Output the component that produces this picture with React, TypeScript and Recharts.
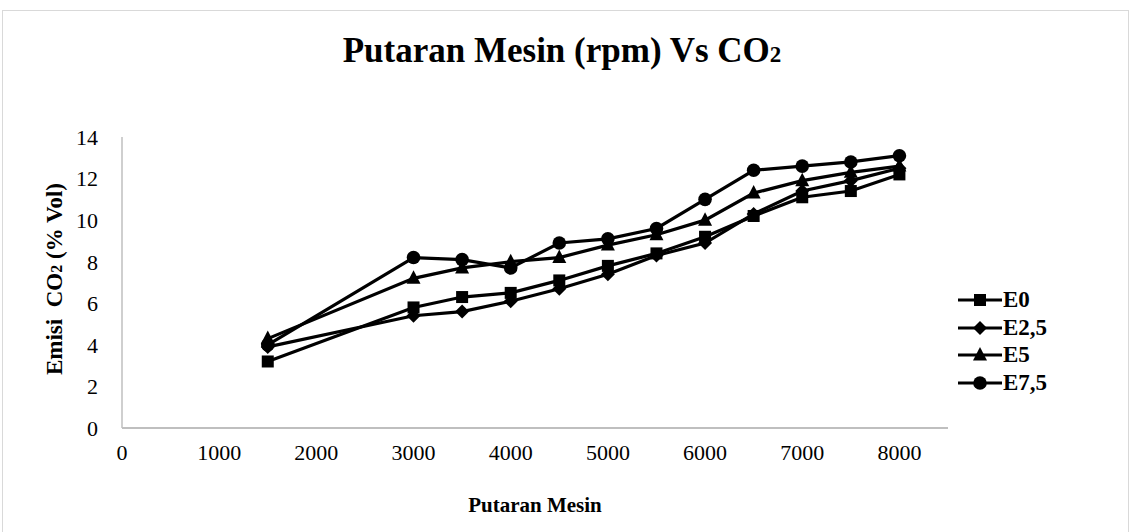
import React from "react";
import { LineChart, Line, XAxis, YAxis } from "recharts";

const rpm = [1500, 3000, 3500, 4000, 4500, 5000, 5500, 6000, 6500, 7000, 7500, 8000];
const e0 = [3.2, 5.8, 6.3, 6.5, 7.1, 7.8, 8.4, 9.2, 10.2, 11.1, 11.4, 12.2];
const e25 = [3.9, 5.4, 5.6, 6.1, 6.7, 7.4, 8.3, 8.9, 10.3, 11.4, 11.9, 12.5];
const e5 = [4.3, 7.2, 7.7, 8.0, 8.2, 8.8, 9.3, 10.0, 11.3, 11.9, 12.3, 12.6];
const e75 = [4.0, 8.2, 8.1, 7.7, 8.9, 9.1, 9.6, 11.0, 12.4, 12.6, 12.8, 13.1];
const xTicks = [0, 1000, 2000, 3000, 4000, 5000, 6000, 7000, 8000];
const yTicks = [0, 2, 4, 6, 8, 10, 12, 14];
const seriesNames = ["E0", "E2,5", "E5", "E7,5"];
const seriesKeys = ["e0", "e25", "e5", "e75"];
const seriesShapes = ["square", "diamond", "triangle", "circle"];

const data = rpm.map((r, i) => ({ rpm: r, e0: e0[i], e25: e25[i], e5: e5[i], e75: e75[i] }));

const FONT = "'Liberation Serif', 'Times New Roman', serif";

function Marker({ shape, cx, cy }: { shape: string; cx: number; cy: number }) {
  if (shape === "square") return <rect x={cx - 6} y={cy - 6} width={12} height={12} fill="#000" />;
  if (shape === "diamond")
    return <polygon points={`${cx},${cy - 7} ${cx + 7},${cy} ${cx},${cy + 7} ${cx - 7},${cy}`} fill="#000" />;
  if (shape === "triangle")
    return <polygon points={`${cx},${cy - 8} ${cx + 7},${cy + 5.5} ${cx - 7},${cy + 5.5}`} fill="#000" />;
  return <circle cx={cx} cy={cy} r={6.8} fill="#000" />;
}

function makeDot(shape: string) {
  return (props: any) => {
    const { cx, cy, index } = props;
    if (cx == null || cy == null) return <g key={`d-${shape}-${index}`} />;
    return (
      <g key={`d-${shape}-${index}`}>
        <Marker shape={shape} cx={cx} cy={cy} />
      </g>
    );
  };
}

function LegendBox() {
  return (
    <div style={{ position: "absolute", left: 958, top: 286, fontFamily: FONT }}>
      {seriesNames.map((n, i) => (
        <div key={n} style={{ display: "flex", alignItems: "center", height: 27.7 }}>
          <svg width={44} height={18} style={{ display: "block" }}>
            <line x1={0} y1={9} x2={44} y2={9} stroke="#000" strokeWidth={3} />
            <Marker shape={seriesShapes[i]} cx={22} cy={9} />
          </svg>
          <span style={{ fontWeight: "bold", fontSize: 23, marginLeft: 1, lineHeight: "24px" }}>{n}</span>
        </div>
      ))}
    </div>
  );
}

export default function App() {
  return (
    <div style={{ position: "absolute", left: 0, top: 0, width: 1132, height: 532, background: "#fff", overflow: "hidden" }}>
      <div
        style={{
          position: "absolute",
          left: 2,
          top: 10,
          width: 1127,
          height: 540,
          border: "1px solid #d9d9d9",
          boxSizing: "border-box",
        }}
      />
      <div style={{ position: "absolute", left: 0, top: 0 }}>
        <LineChart width={1132} height={532} data={data} margin={{ top: 137, right: 184, bottom: 64, left: 62 }}>
          <XAxis
            dataKey="rpm"
            type="number"
            domain={[0, 8500]}
            ticks={xTicks}
            height={40}
            axisLine={{ stroke: "#bfbfbf", strokeWidth: 2 }}
            tickLine={false}
            tick={{ fill: "#000", fontSize: 22, fontFamily: FONT }}
            tickMargin={10}
            interval={0}
          />
          <YAxis
            type="number"
            domain={[0, 14]}
            ticks={yTicks}
            width={60}
            axisLine={{ stroke: "#bfbfbf", strokeWidth: 1.5 }}
            tickLine={false}
            tick={{ fill: "#000", fontSize: 22, fontFamily: FONT }}
            tickMargin={18}
            interval={0}
          />
          {seriesKeys.map((k, i) => (
            <Line
              key={k}
              dataKey={k}
              name={seriesNames[i]}
              stroke="#000"
              strokeWidth={3.2}
              dot={makeDot(seriesShapes[i])}
              activeDot={false}
              isAnimationActive={false}
            />
          ))}
        </LineChart>
      </div>
      <div
        style={{
          position: "absolute",
          left: 0,
          width: 1124,
          top: 30,
          textAlign: "center",
          fontFamily: FONT,
          fontWeight: "bold",
          fontSize: 35,
          lineHeight: "42px",
          whiteSpace: "pre",
        }}
      >
        Putaran Mesin (rpm) Vs CO<span style={{ fontSize: 23 }}>2</span>
      </div>
      <div
        style={{
          position: "absolute",
          left: 0,
          width: 1070,
          top: 492,
          textAlign: "center",
          fontFamily: FONT,
          fontWeight: "bold",
          fontSize: 21,
          lineHeight: "26px",
        }}
      >
        Putaran Mesin
      </div>
      <div
        style={{
          position: "absolute",
          left: 56,
          top: 279,
          transform: "translate(-50%, -50%) rotate(-90deg)",
          whiteSpace: "pre",
          fontFamily: FONT,
          fontWeight: "bold",
          fontSize: 23,
          lineHeight: "28px",
        }}
      >
        {"Emisi  CO"}
        <span style={{ fontSize: 16 }}>2</span>
        {" (% Vol)"}
      </div>
      <LegendBox />
    </div>
  );
}
